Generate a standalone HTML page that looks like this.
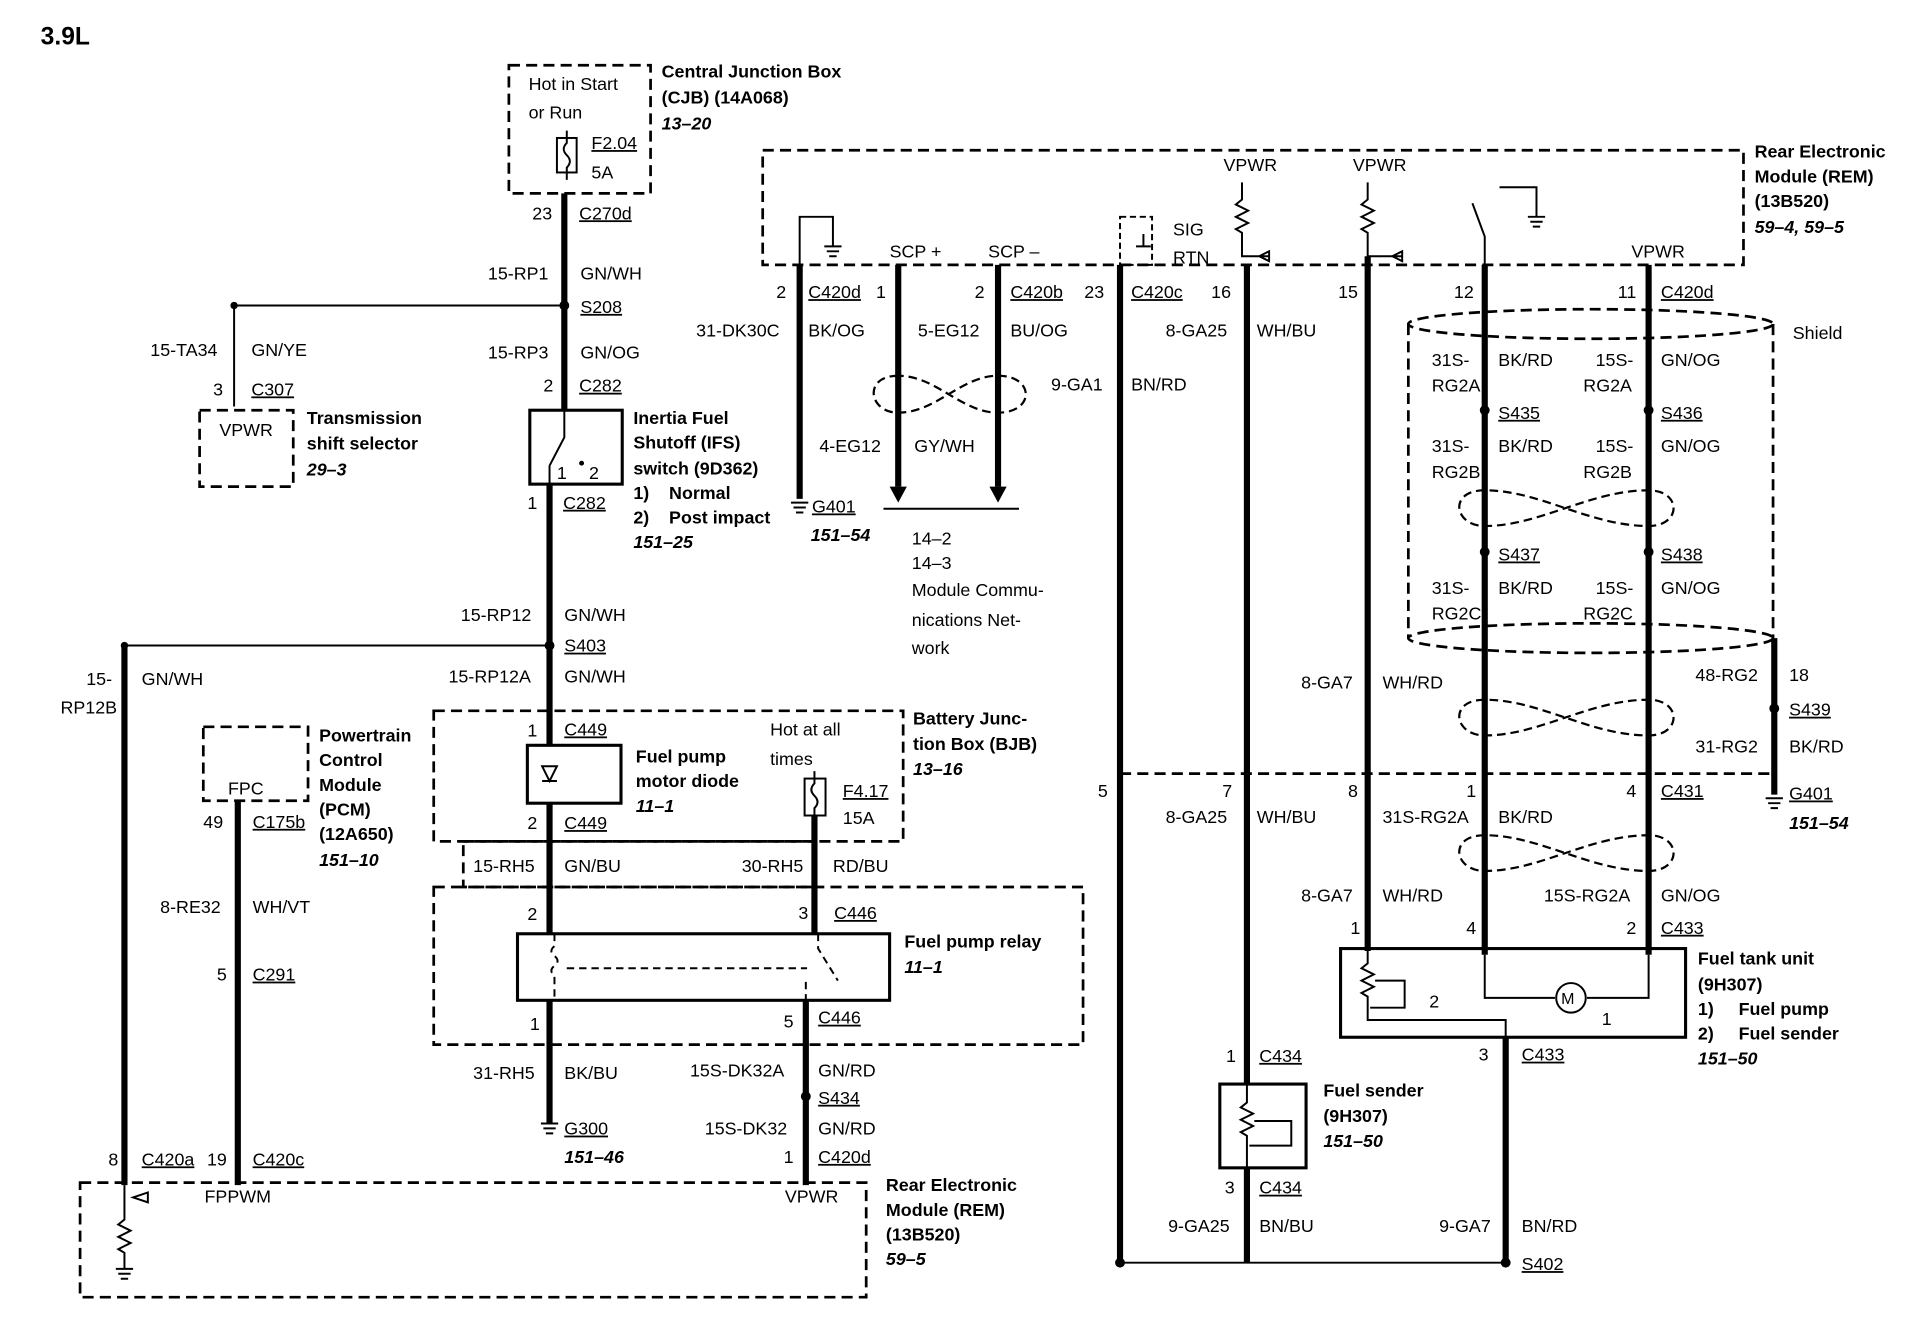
<!DOCTYPE html>
<html><head><meta charset="utf-8"><style>
html,body{margin:0;padding:0;background:#fff}
svg{display:block}
text{font-family:"Liberation Sans",sans-serif;font-size:14.5px;fill:#000}
.b{font-weight:bold}
.i{font-weight:bold;font-style:italic}
.w{stroke:#000;stroke-width:5;fill:none}
.t{stroke:#000;stroke-width:1.6;fill:none}
.d{stroke:#000;stroke-width:2.2;fill:none;stroke-dasharray:9 5}
.u{text-decoration:underline}
</style></head><body>
<svg width="1932" height="1344" viewBox="0 0 1568 1091" preserveAspectRatio="none" xmlns="http://www.w3.org/2000/svg">
<text x="33" y="36" class="b" style="font-size:20px">3.9L</text>

<!-- CJB -->
<rect x="413" y="53" width="115" height="104" class="d"/>
<text x="429" y="73">Hot in Start</text><text x="429" y="96">or Run</text>
<rect x="452" y="112" width="16" height="28" class="t"/>
<path d="M460 106 v10 q-5 5 0 10 q5 5 0 10 v10" class="t"/>
<text x="480" y="121" class="u">F2.04</text><text x="480" y="145">5A</text>
<text x="537" y="63" class="b">Central Junction Box</text>
<text x="537" y="84" class="b">(CJB) (14A068)</text>
<text x="537" y="105" class="i">13–20</text>

<path d="M458 157 V333" class="w"/>
<text x="432" y="178">23</text><text x="470" y="178" class="u">C270d</text>
<text x="396" y="227">15-RP1</text><text x="471" y="227">GN/WH</text>
<circle cx="458" cy="248" r="4"/><path d="M190 248 H458" class="t"/><circle cx="190" cy="248" r="3"/>
<text x="471" y="254" class="u">S208</text>
<text x="396" y="291">15-RP3</text><text x="471" y="291">GN/OG</text>
<text x="441" y="318">2</text><text x="470" y="318" class="u">C282</text>

<!-- IFS -->
<rect x="430" y="333" width="75" height="60" class="t" style="stroke-width:2.5"/>
<path d="M458 333 V355 L446 378 M446 378 V393" class="t"/>
<circle cx="472" cy="376" r="2"/>
<text x="452" y="389">1</text><text x="478" y="389">2</text>
<text x="428" y="413">1</text><text x="457" y="413" class="u">C282</text>
<text x="514" y="344" class="b">Inertia Fuel</text>
<text x="514" y="364" class="b">Shutoff (IFS)</text>
<text x="514" y="385" class="b">switch (9D362)</text>
<text x="514" y="405" class="b">1)&#160;&#160;&#160;&#160;Normal</text>
<text x="514" y="425" class="b">2)&#160;&#160;&#160;&#160;Post impact</text>
<text x="514" y="445" class="i">151–25</text>

<path d="M446 393 V605 M446 652 V758 M446 812 V912" class="w"/>
<text x="374" y="504">15-RP12</text><text x="458" y="504">GN/WH</text>
<circle cx="446" cy="524" r="4"/><path d="M101 524 H446" class="t"/><circle cx="101" cy="524" r="3"/>
<text x="458" y="529" class="u">S403</text>
<text x="364" y="554">15-RP12A</text><text x="458" y="554">GN/WH</text>

<!-- left -->
<path d="M101 524 V962" class="w"/>
<text x="70" y="556">15-</text><text x="95" y="579" text-anchor="end">RP12B</text><text x="115" y="556">GN/WH</text>
<path d="M190 248 V330" class="t"/>
<text x="122" y="289">15-TA34</text><text x="204" y="289">GN/YE</text>
<text x="173" y="321">3</text><text x="204" y="321" class="u">C307</text>
<rect x="162" y="333" width="76" height="62" class="d"/>
<text x="178" y="354">VPWR</text>
<text x="249" y="344" class="b">Transmission</text>
<text x="249" y="365" class="b">shift selector</text>
<text x="249" y="386" class="i">29–3</text>

<rect x="165" y="590" width="85" height="60" class="d"/>
<text x="185" y="645">FPC</text>
<text x="259" y="602" class="b">Powertrain</text><text x="259" y="622" class="b">Control</text>
<text x="259" y="642" class="b">Module</text><text x="259" y="662" class="b">(PCM)</text>
<text x="259" y="682" class="b">(12A650)</text><text x="259" y="703" class="i">151–10</text>
<path d="M193 650 V962" class="w"/>
<text x="165" y="672">49</text><text x="205" y="672" class="u">C175b</text>
<text x="130" y="741">8-RE32</text><text x="205" y="741">WH/VT</text>
<text x="176" y="796">5</text><text x="205" y="796" class="u">C291</text>

<!-- BJB -->
<rect x="352" y="577" width="381" height="106" class="d"/>
<text x="428" y="598">1</text><text x="458" y="597" class="u">C449</text>
<rect x="428" y="605" width="76" height="47" class="t" style="stroke-width:2.5"/>
<path d="M440 622 L452 622 L446 634 Z M440 634 H452" class="t" fill="#000"/>
<text x="516" y="619" class="b">Fuel pump</text><text x="516" y="639" class="b">motor diode</text><text x="516" y="659" class="i">11–1</text>
<text x="428" y="673">2</text><text x="458" y="673" class="u">C449</text>
<text x="625" y="597">Hot at all</text><text x="625" y="621">times</text>
<rect x="653" y="632" width="17" height="30" class="t"/>
<path d="M661 626 v10 q-5 5 0 10 q5 5 0 10 v12" class="t"/>
<text x="684" y="647" class="u">F4.17</text><text x="684" y="669">15A</text>
<text x="741" y="588" class="b">Battery Junc-</text><text x="741" y="609" class="b">tion Box (BJB)</text><text x="741" y="629" class="i">13–16</text>
<path d="M661 662 V758" class="w"/>
<rect x="376" y="683" width="284" height="37" class="d"/>
<text x="384" y="708">15-RH5</text><text x="458" y="708">GN/BU</text>
<text x="602" y="708">30-RH5</text><text x="676" y="708">RD/BU</text>
<rect x="352" y="720" width="527" height="128" class="d"/>
<text x="428" y="747">2</text><text x="648" y="746">3</text><text x="677" y="746" class="u">C446</text>
<rect x="420" y="758" width="302" height="54" class="t" style="stroke-width:2.5"/>
<path d="M450 758 V768 q-5 4 0 8 q5 4 0 8 q-5 4 0 8 V812 M460 786 H655 M664 758 V770 L680 796 M654 797 V812" class="t" style="stroke-dasharray:6 4"/>
<text x="734" y="769" class="b">Fuel pump relay</text><text x="734" y="790" class="i">11–1</text>
<text x="430" y="836">1</text><text x="636" y="834">5</text><text x="664" y="831" class="u">C446</text>
<text x="384" y="876">31-RH5</text><text x="458" y="876">BK/BU</text>
<path d="M439 912 H453 M441 916 H451 M443 920 H449" class="t"/>
<text x="458" y="921" class="u">G300</text><text x="458" y="944" class="i">151–46</text>
<path d="M654 812 V962" class="w"/>
<text x="560" y="874">15S-DK32A</text><text x="664" y="874">GN/RD</text>
<circle cx="654" cy="890" r="4"/><text x="664" y="896" class="u">S434</text>
<text x="572" y="921">15S-DK32</text><text x="664" y="921">GN/RD</text>
<text x="636" y="944">1</text><text x="664" y="944" class="u">C420d</text>

<!-- bottom REM -->
<rect x="65" y="960" width="638" height="93" class="d"/>
<text x="88" y="946">8</text><text x="115" y="946" class="u">C420a</text>
<text x="168" y="946">19</text><text x="205" y="946" class="u">C420c</text>
<text x="166" y="976">FPPWM</text><text x="637" y="976">VPWR</text>
<path d="M101 962 V990 l-5 4 10 5 -10 5 10 5 -10 5 5 3 V1030 M94 1030 H108 M96 1034 H106 M98 1038 H104 M108 972 L120 968 V976 Z" class="t"/>
<text x="719" y="967" class="b">Rear Electronic</text><text x="719" y="987" class="b">Module (REM)</text>
<text x="719" y="1007" class="b">(13B520)</text><text x="719" y="1027" class="i">59–5</text>

<!-- top right REM -->
<rect x="619" y="122" width="796" height="93" class="d"/>
<text x="1424" y="128" class="b">Rear Electronic</text><text x="1424" y="148" class="b">Module (REM)</text>
<text x="1424" y="168" class="b">(13B520)</text><text x="1424" y="189" class="i">59–4, 59–5</text>
<path d="M649 215 V176 H676 V200 M669 200 H683 M671 204 H681 M673 208 H679" class="t"/>
<path d="M649 215 V405" class="w"/>
<text x="630" y="242">2</text><text x="656" y="242" class="u">C420d</text>
<text x="565" y="273">31-DK30C</text><text x="656" y="273">BK/OG</text>
<path d="M642 408 H656 M644 412 H654 M646 416 H652" class="t"/>
<text x="659" y="416" class="u">G401</text><text x="658" y="439" class="i">151–54</text>
<text x="722" y="209">SCP +</text><text x="802" y="209">SCP –</text>
<path d="M729 215 V395 M810 215 V395" class="w"/>
<path d="M722 395 L736 395 L729 408 Z M803 395 L817 395 L810 408 Z"/>
<text x="711" y="242">1</text><text x="791" y="242">2</text><text x="820" y="242" class="u">C420b</text>
<text x="745" y="273">5-EG12</text><text x="820" y="273">BU/OG</text>
<path d="M729 305 C700 305 705 335 729 335 C760 335 780 305 810 305 C840 305 840 335 810 335 C780 335 760 305 729 305" class="d" style="stroke-width:1.8;stroke-dasharray:7 4"/>
<text x="665" y="367">4-EG12</text><text x="742" y="367">GY/WH</text>
<path d="M717 413 H827" class="t"/>
<text x="740" y="442">14–2</text><text x="740" y="462">14–3</text><text x="740" y="484">Module Commu-</text>
<text x="740" y="508">nications Net-</text><text x="740" y="531">work</text>

<path d="M909 215 V1025" class="w"/>
<rect x="909" y="176" width="26" height="39" class="t" style="stroke-dasharray:5 3"/>
<path d="M928 190 V200 M922 200 H934" class="t"/>
<text x="952" y="191">SIG</text><text x="952" y="214">RTN</text>
<text x="880" y="242">23</text><text x="918" y="242" class="u">C420c</text>
<text x="853" y="317">9-GA1</text><text x="918" y="317">BN/RD</text>
<text x="891" y="647">5</text>
<path d="M909 628 H1440" class="d"/>

<text x="993" y="139">VPWR</text><text x="1098" y="139">VPWR</text>
<path d="M1008 148 V162 l-5 4 10 5 -10 5 10 5 -10 5 5 3 V208 H1030 M1030 204 L1022 208 L1030 212 Z" class="t"/>
<path d="M1110 148 V162 l-5 4 10 5 -10 5 10 5 -10 5 5 3 V208 H1138 M1138 204 L1130 208 L1138 212 Z" class="t"/>
<path d="M1012 215 V880 M1012 948 V1025" class="w"/>
<text x="983" y="242">16</text>
<text x="946" y="273">8-GA25</text><text x="1020" y="273">WH/BU</text>
<text x="992" y="647">7</text><text x="946" y="668">8-GA25</text><text x="1020" y="668">WH/BU</text>
<text x="995" y="862">1</text><text x="1022" y="862" class="u">C434</text>
<rect x="990" y="880" width="70" height="68" class="t" style="stroke-width:2.5"/>
<path d="M1012 880 V895 l-5 4 10 5 -10 5 10 5 -10 5 5 3 V948 M1018 910 H1048 V930 H1014" class="t"/>
<text x="1074" y="890" class="b">Fuel sender</text><text x="1074" y="911" class="b">(9H307)</text><text x="1074" y="931" class="i">151–50</text>
<text x="994" y="969">3</text><text x="1022" y="969" class="u">C434</text>
<text x="948" y="1000">9-GA25</text><text x="1022" y="1000">BN/BU</text>
<path d="M909 1025 H1222" class="t"/><circle cx="909" cy="1025" r="4"/><circle cx="1222" cy="1025" r="4"/>
<text x="1235" y="1031" class="u">S402</text>

<path d="M1110 208 V772 M1205 215 V775 M1338 215 V775" class="w"/>
<path d="M1195 165 L1205 192 V215 M1217 152 H1247 V176 M1240 176 H1254 M1242 180 H1252 M1244 184 H1250" class="t"/>
<text x="1086" y="242">15</text><text x="1180" y="242">12</text><text x="1313" y="242">11</text><text x="1348" y="242" class="u">C420d</text>
<text x="1324" y="209">VPWR</text>
<text x="1056" y="559">8-GA7</text><text x="1122" y="559">WH/RD</text>
<text x="1094" y="647">8</text><text x="1190" y="647">1</text><text x="1320" y="647">4</text><text x="1348" y="647" class="u">C431</text>
<text x="1056" y="732">8-GA7</text><text x="1122" y="732">WH/RD</text>
<text x="1122" y="668">31S-RG2A</text><text x="1216" y="668">BK/RD</text>
<text x="1253" y="732">15S-RG2A</text><text x="1348" y="732">GN/OG</text>
<text x="1096" y="758">1</text><text x="1190" y="758">4</text><text x="1320" y="758">2</text><text x="1348" y="758" class="u">C433</text>

<!-- shield -->
<ellipse cx="1291" cy="263" rx="148" ry="12" class="d"/>
<ellipse cx="1291" cy="518" rx="148" ry="12" class="d"/>
<path d="M1143 263 V518 M1439 263 V518" class="d"/>
<text x="1455" y="275">Shield</text>
<text x="1162" y="297">31S-</text><text x="1162" y="318">RG2A</text><text x="1216" y="297">BK/RD</text>
<text x="1295" y="297">15S-</text><text x="1285" y="318">RG2A</text><text x="1348" y="297">GN/OG</text>
<circle cx="1205" cy="333" r="4"/><circle cx="1338" cy="333" r="4"/>
<text x="1216" y="340" class="u">S435</text><text x="1348" y="340" class="u">S436</text>
<text x="1162" y="367">31S-</text><text x="1162" y="388">RG2B</text><text x="1216" y="367">BK/RD</text>
<text x="1295" y="367">15S-</text><text x="1285" y="388">RG2B</text><text x="1348" y="367">GN/OG</text>
<circle cx="1205" cy="448" r="4"/><circle cx="1338" cy="448" r="4"/>
<text x="1216" y="455" class="u">S437</text><text x="1348" y="455" class="u">S438</text>
<text x="1162" y="482">31S-</text><text x="1162" y="503">RG2C</text><text x="1216" y="482">BK/RD</text>
<text x="1295" y="482">15S-</text><text x="1285" y="503">RG2C</text><text x="1348" y="482">GN/OG</text>
<g class="d" style="stroke-width:1.8;stroke-dasharray:7 4">
<path d="M1205 398 C1175 398 1180 427 1205 427 C1250 427 1290 398 1338 398 C1365 398 1365 427 1338 427 C1290 427 1250 398 1205 398"/>
<path d="M1205 568 C1175 568 1180 597 1205 597 C1250 597 1290 568 1338 568 C1365 568 1365 597 1338 597 C1290 597 1250 568 1205 568"/>
<path d="M1205 678 C1175 678 1180 707 1205 707 C1250 707 1290 678 1338 678 C1365 678 1365 707 1338 707 C1290 707 1250 678 1205 678"/>
</g>
<path d="M1440 518 V645" class="w"/>
<text x="1376" y="553">48-RG2</text><text x="1452" y="553">18</text>
<circle cx="1440" cy="575" r="4"/><text x="1452" y="581" class="u">S439</text>
<text x="1376" y="611">31-RG2</text><text x="1452" y="611">BK/RD</text>
<path d="M1433 648 H1447 M1435 652 H1445 M1437 656 H1443" class="t"/>
<text x="1452" y="649" class="u">G401</text><text x="1452" y="673" class="i">151–54</text>

<!-- fuel tank unit -->
<rect x="1088" y="770" width="280" height="72" class="t" style="stroke-width:2.5"/>
<path d="M1110 772 V782 l-5 4 10 5 -10 5 10 5 -10 5 5 3 V828 H1222 V842 M1116 796 H1140 V818 H1112 M1205 775 V810 H1262 M1288 810 H1338 V775" class="t"/>
<circle cx="1275" cy="810" r="12" class="t"/><text x="1267" y="815" style="font-size:13px">M</text>
<text x="1160" y="818">2</text><text x="1300" y="832">1</text>
<text x="1378" y="783" class="b">Fuel tank unit</text><text x="1378" y="804" class="b">(9H307)</text>
<text x="1378" y="824" class="b">1)&#160;&#160;&#160;&#160;&#160;Fuel pump</text>
<text x="1378" y="844" class="b">2)&#160;&#160;&#160;&#160;&#160;Fuel sender</text>
<text x="1378" y="864" class="i">151–50</text>
<path d="M1222 842 V1025" class="w"/>
<text x="1200" y="861">3</text><text x="1235" y="861" class="u">C433</text>
<text x="1168" y="1000">9-GA7</text><text x="1235" y="1000">BN/RD</text>
</svg>
</body></html>
